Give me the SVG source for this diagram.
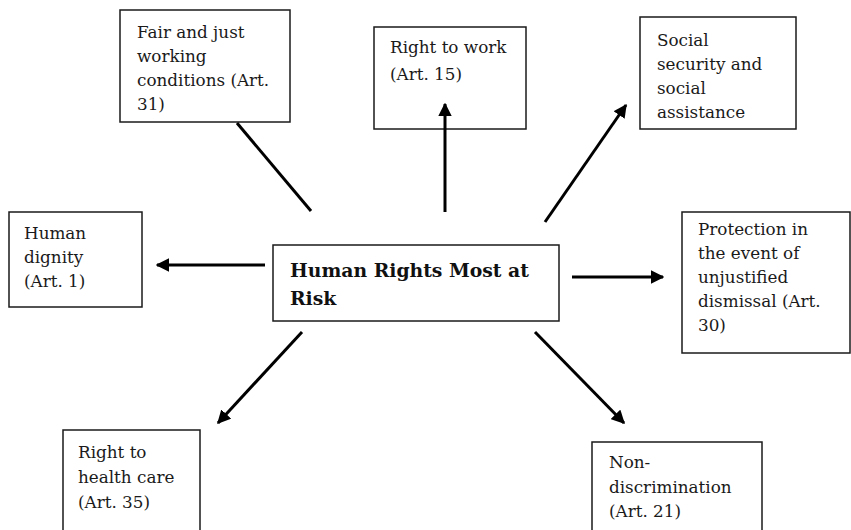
<svg xmlns="http://www.w3.org/2000/svg" width="851" height="530" viewBox="0 0 851 530">
<style>
.box{fill:#fff;stroke:#1a1a1a;stroke-width:1.5}
.t{font-family:"DejaVu Serif",serif;font-size:16.8px;fill:#1a1a1a}
.c{font-family:"DejaVu Serif",serif;font-size:18.8px;font-weight:bold;fill:#111}
.ln{stroke:#000;stroke-width:3;fill:none}
</style>
<defs>
<marker id="ah" viewBox="0 0 10 10" refX="9" refY="5" markerWidth="4.5" markerHeight="4.5" orient="auto" markerUnits="strokeWidth">
<path d="M0,0 L10,5 L0,10 z" fill="#000"/>
</marker>
</defs>
<rect width="851" height="530" fill="#fff"/>
<g id="n-fair">
<rect class="box" x="120" y="10" width="170" height="112"/>
<text class="t" x="137" y="38">Fair and just</text>
<text class="t" x="137" y="62">working</text>
<text class="t" x="137" y="86">conditions (Art.</text>
<text class="t" x="137" y="110">31)</text>
</g>
<g id="n-work">
<rect class="box" x="374" y="27" width="152" height="102"/>
<text class="t" x="390" y="53">Right to work</text>
<text class="t" x="390" y="80">(Art. 15)</text>
</g>
<g id="n-social">
<rect class="box" x="640" y="17" width="156" height="112"/>
<text class="t" x="657" y="46">Social</text>
<text class="t" x="657" y="70">security and</text>
<text class="t" x="657" y="94">social</text>
<text class="t" x="657" y="118">assistance</text>
</g>
<g id="n-dignity">
<rect class="box" x="9" y="212" width="133" height="95"/>
<text class="t" x="24" y="239">Human</text>
<text class="t" x="24" y="263">dignity</text>
<text class="t" x="24" y="287">(Art. 1)</text>
</g>
<g id="n-center">
<rect class="box" x="273" y="245" width="286" height="76"/>
<text class="c" x="290" y="277">Human Rights Most at</text>
<text class="c" x="290" y="305">Risk</text>
</g>
<g id="n-protection">
<rect class="box" x="682" y="212" width="168" height="141"/>
<text class="t" x="698" y="235">Protection in</text>
<text class="t" x="698" y="259">the event of</text>
<text class="t" x="698" y="283">unjustified</text>
<text class="t" x="698" y="307">dismissal (Art.</text>
<text class="t" x="698" y="331">30)</text>
</g>
<g id="n-health">
<rect class="box" x="63" y="430" width="137" height="110"/>
<text class="t" x="78" y="458">Right to</text>
<text class="t" x="78" y="483">health care</text>
<text class="t" x="78" y="508">(Art. 35)</text>
</g>
<g id="n-nondisc">
<rect class="box" x="592" y="442" width="170" height="100"/>
<text class="t" x="609" y="468">Non-</text>
<text class="t" x="609" y="493">discrimination</text>
<text class="t" x="609" y="517">(Art. 21)</text>
</g>
<g id="connectors">
<line class="ln" x1="237" y1="123" x2="311" y2="211"/>
<line class="ln" x1="445" y1="212" x2="445" y2="104" marker-end="url(#ah)"/>
<line class="ln" x1="545" y1="222" x2="626" y2="105" marker-end="url(#ah)"/>
<line class="ln" x1="265" y1="265" x2="157" y2="265" marker-end="url(#ah)"/>
<line class="ln" x1="572" y1="277" x2="663" y2="277" marker-end="url(#ah)"/>
<line class="ln" x1="302" y1="332" x2="218" y2="423" marker-end="url(#ah)"/>
<line class="ln" x1="535" y1="332" x2="624" y2="423" marker-end="url(#ah)"/>
</g>
</svg>
